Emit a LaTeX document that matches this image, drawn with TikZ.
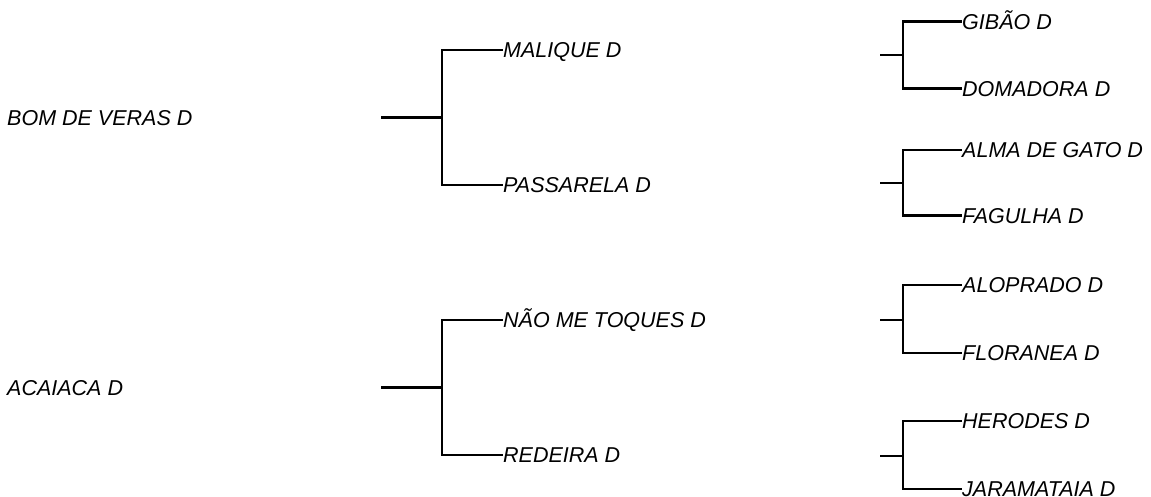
\documentclass[tikz,border=0pt]{standalone}
\usepackage{fontspec}
\setmainfont{Liberation Sans}
\begin{document}
\begin{tikzpicture}[x=1pt,y=-1pt,
  lbl/.style={anchor=west,inner sep=1pt,font=\fontsize{21.5}{24}\selectfont\itshape,text height=15.4pt,text depth=0pt},
  br/.style={line width=2.6pt,line cap=rect}]
\useasboundingbox (0,0) rectangle (1151,497);
% left labels
\node[lbl] (bom) at (6,117.5) {BOM DE VERAS D};
\node[lbl] (aca) at (6,388) {ACAIACA D};
% middle trees
\coordinate (s1) at (382,117.5);
\coordinate (j1) at (442,117.5);
\node[lbl] (mal) at (502,50) {MALIQUE D};
\node[lbl] (pas) at (502,185) {PASSARELA D};
\coordinate (s2) at (382,387.5);
\coordinate (j2) at (442,387.5);
\node[lbl] (nao) at (502,320) {NÃO ME TOQUES D};
\node[lbl] (red) at (502,455) {REDEIRA D};
\draw[br] (s1) -- (j1);
\draw[br] (j1) |- (mal.west);
\draw[br] (j1) |- (pas.west);
\draw[br] (s2) -- (j2);
\draw[br] (j2) |- (nao.west);
\draw[br] (j2) |- (red.west);
% right trees
\coordinate (r1s) at (881,55);   \coordinate (r1j) at (903,55);
\coordinate (r2s) at (881,183);  \coordinate (r2j) at (903,183);
\coordinate (r3s) at (881,320);  \coordinate (r3j) at (903,320);
\coordinate (r4s) at (881,456);  \coordinate (r4j) at (903,456);
\node[lbl] (gib) at (961,21.5) {GIBÃO D};
\node[lbl] (dom) at (961,88.5) {DOMADORA D};
\node[lbl] (alm) at (961,150) {ALMA DE GATO D};
\node[lbl] (fag) at (961,215.5) {FAGULHA D};
\node[lbl] (alo) at (961,285) {ALOPRADO D};
\node[lbl] (flo) at (961,353) {FLORANEA D};
\node[lbl] (her) at (961,421) {HERODES D};
\node[lbl] (jar) at (961,489) {JARAMATAIA D};
\draw[br] (r1s) -- (r1j); \draw[br] (r1j) |- (gib.west); \draw[br] (r1j) |- (dom.west);
\draw[br] (r2s) -- (r2j); \draw[br] (r2j) |- (alm.west); \draw[br] (r2j) |- (fag.west);
\draw[br] (r3s) -- (r3j); \draw[br] (r3j) |- (alo.west); \draw[br] (r3j) |- (flo.west);
\draw[br] (r4s) -- (r4j); \draw[br] (r4j) |- (her.west); \draw[br] (r4j) |- (jar.west);
\end{tikzpicture}
\end{document}
